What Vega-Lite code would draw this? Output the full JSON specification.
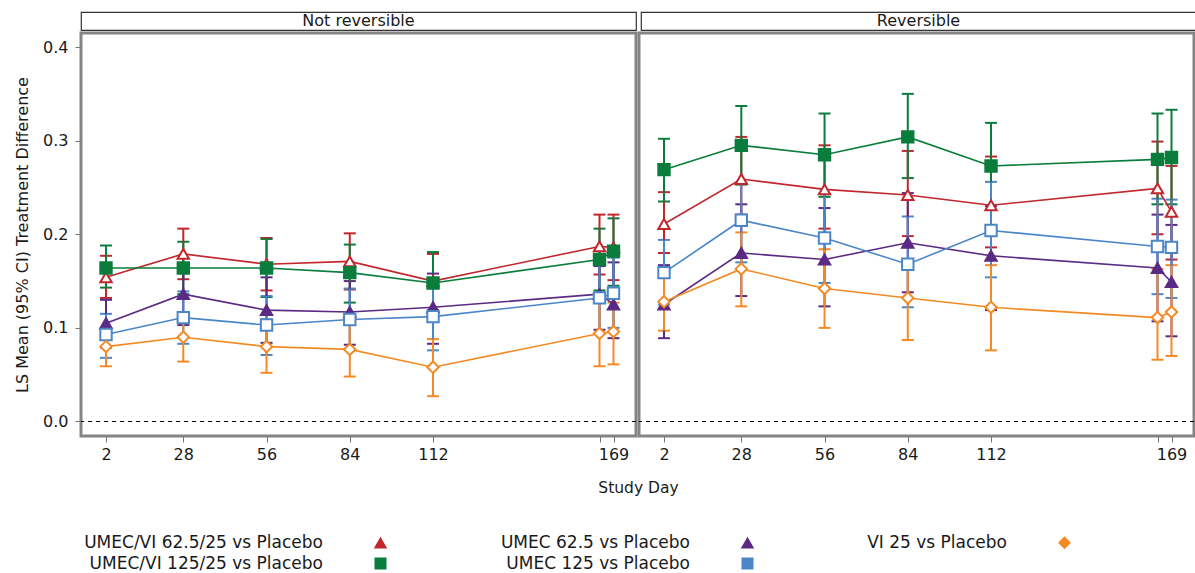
{
  "$schema": "https://vega.github.io/schema/vega-lite/v6.json",
  "padding": {"left": 13, "top": 11, "right": 0, "bottom": 0},
  "config": {
    "font": "DejaVu Sans",
    "view": {"stroke": "#858585", "strokeWidth": 3},
    "axis": {"labelColor": "#1a1a1a", "titleColor": "#1a1a1a", "titleFontWeight": "normal", "tickColor": "#777777", "domain": false, "grid": false}
  },
  "datasets": {
    "d": [
      {"panel":"Not reversible","series":"UMEC/VI 62.5/25 vs Placebo","day":2,"mean":0.154,"lo":0.132,"hi":0.177},
      {"panel":"Not reversible","series":"UMEC/VI 62.5/25 vs Placebo","day":28,"mean":0.179,"lo":0.152,"hi":0.206},
      {"panel":"Not reversible","series":"UMEC/VI 62.5/25 vs Placebo","day":56,"mean":0.168,"lo":0.140,"hi":0.196},
      {"panel":"Not reversible","series":"UMEC/VI 62.5/25 vs Placebo","day":84,"mean":0.171,"lo":0.141,"hi":0.201},
      {"panel":"Not reversible","series":"UMEC/VI 62.5/25 vs Placebo","day":112,"mean":0.150,"lo":0.119,"hi":0.179},
      {"panel":"Not reversible","series":"UMEC/VI 62.5/25 vs Placebo","day":168,"mean":0.187,"lo":0.157,"hi":0.221},
      {"panel":"Not reversible","series":"UMEC/VI 62.5/25 vs Placebo","day":169,"mean":0.186,"lo":0.151,"hi":0.221},
      {"panel":"Not reversible","series":"UMEC/VI 125/25 vs Placebo","day":2,"mean":0.164,"lo":0.143,"hi":0.188},
      {"panel":"Not reversible","series":"UMEC/VI 125/25 vs Placebo","day":28,"mean":0.164,"lo":0.136,"hi":0.192},
      {"panel":"Not reversible","series":"UMEC/VI 125/25 vs Placebo","day":56,"mean":0.164,"lo":0.133,"hi":0.195},
      {"panel":"Not reversible","series":"UMEC/VI 125/25 vs Placebo","day":84,"mean":0.159,"lo":0.127,"hi":0.189},
      {"panel":"Not reversible","series":"UMEC/VI 125/25 vs Placebo","day":112,"mean":0.148,"lo":0.116,"hi":0.181},
      {"panel":"Not reversible","series":"UMEC/VI 125/25 vs Placebo","day":168,"mean":0.173,"lo":0.140,"hi":0.206},
      {"panel":"Not reversible","series":"UMEC/VI 125/25 vs Placebo","day":169,"mean":0.182,"lo":0.145,"hi":0.217},
      {"panel":"Not reversible","series":"UMEC 62.5 vs Placebo","day":2,"mean":0.105,"lo":0.079,"hi":0.130},
      {"panel":"Not reversible","series":"UMEC 62.5 vs Placebo","day":28,"mean":0.136,"lo":0.103,"hi":0.166},
      {"panel":"Not reversible","series":"UMEC 62.5 vs Placebo","day":56,"mean":0.119,"lo":0.084,"hi":0.154},
      {"panel":"Not reversible","series":"UMEC 62.5 vs Placebo","day":84,"mean":0.117,"lo":0.082,"hi":0.150},
      {"panel":"Not reversible","series":"UMEC 62.5 vs Placebo","day":112,"mean":0.122,"lo":0.083,"hi":0.158},
      {"panel":"Not reversible","series":"UMEC 62.5 vs Placebo","day":168,"mean":0.136,"lo":0.098,"hi":0.166},
      {"panel":"Not reversible","series":"UMEC 62.5 vs Placebo","day":169,"mean":0.125,"lo":0.089,"hi":0.170},
      {"panel":"Not reversible","series":"UMEC 125 vs Placebo","day":2,"mean":0.093,"lo":0.068,"hi":0.115},
      {"panel":"Not reversible","series":"UMEC 125 vs Placebo","day":28,"mean":0.111,"lo":0.083,"hi":0.139},
      {"panel":"Not reversible","series":"UMEC 125 vs Placebo","day":56,"mean":0.103,"lo":0.071,"hi":0.134},
      {"panel":"Not reversible","series":"UMEC 125 vs Placebo","day":84,"mean":0.109,"lo":0.077,"hi":0.142},
      {"panel":"Not reversible","series":"UMEC 125 vs Placebo","day":112,"mean":0.112,"lo":0.076,"hi":0.147},
      {"panel":"Not reversible","series":"UMEC 125 vs Placebo","day":168,"mean":0.132,"lo":0.094,"hi":0.171},
      {"panel":"Not reversible","series":"UMEC 125 vs Placebo","day":169,"mean":0.137,"lo":0.100,"hi":0.175},
      {"panel":"Not reversible","series":"VI 25 vs Placebo","day":2,"mean":0.080,"lo":0.059,"hi":0.100},
      {"panel":"Not reversible","series":"VI 25 vs Placebo","day":28,"mean":0.090,"lo":0.064,"hi":0.115},
      {"panel":"Not reversible","series":"VI 25 vs Placebo","day":56,"mean":0.080,"lo":0.052,"hi":0.109},
      {"panel":"Not reversible","series":"VI 25 vs Placebo","day":84,"mean":0.077,"lo":0.048,"hi":0.106},
      {"panel":"Not reversible","series":"VI 25 vs Placebo","day":112,"mean":0.058,"lo":0.027,"hi":0.088},
      {"panel":"Not reversible","series":"VI 25 vs Placebo","day":168,"mean":0.094,"lo":0.059,"hi":0.127},
      {"panel":"Not reversible","series":"VI 25 vs Placebo","day":169,"mean":0.096,"lo":0.061,"hi":0.127},
      {"panel":"Reversible","series":"UMEC/VI 62.5/25 vs Placebo","day":2,"mean":0.211,"lo":0.180,"hi":0.245},
      {"panel":"Reversible","series":"UMEC/VI 62.5/25 vs Placebo","day":28,"mean":0.259,"lo":0.221,"hi":0.304},
      {"panel":"Reversible","series":"UMEC/VI 62.5/25 vs Placebo","day":56,"mean":0.248,"lo":0.206,"hi":0.295},
      {"panel":"Reversible","series":"UMEC/VI 62.5/25 vs Placebo","day":84,"mean":0.242,"lo":0.198,"hi":0.289},
      {"panel":"Reversible","series":"UMEC/VI 62.5/25 vs Placebo","day":112,"mean":0.231,"lo":0.186,"hi":0.283},
      {"panel":"Reversible","series":"UMEC/VI 62.5/25 vs Placebo","day":168,"mean":0.249,"lo":0.200,"hi":0.299},
      {"panel":"Reversible","series":"UMEC/VI 62.5/25 vs Placebo","day":169,"mean":0.224,"lo":0.173,"hi":0.273},
      {"panel":"Reversible","series":"UMEC/VI 125/25 vs Placebo","day":2,"mean":0.269,"lo":0.235,"hi":0.302},
      {"panel":"Reversible","series":"UMEC/VI 125/25 vs Placebo","day":28,"mean":0.295,"lo":0.253,"hi":0.337},
      {"panel":"Reversible","series":"UMEC/VI 125/25 vs Placebo","day":56,"mean":0.285,"lo":0.240,"hi":0.329},
      {"panel":"Reversible","series":"UMEC/VI 125/25 vs Placebo","day":84,"mean":0.304,"lo":0.260,"hi":0.350},
      {"panel":"Reversible","series":"UMEC/VI 125/25 vs Placebo","day":112,"mean":0.273,"lo":0.226,"hi":0.319},
      {"panel":"Reversible","series":"UMEC/VI 125/25 vs Placebo","day":168,"mean":0.280,"lo":0.232,"hi":0.329},
      {"panel":"Reversible","series":"UMEC/VI 125/25 vs Placebo","day":169,"mean":0.282,"lo":0.232,"hi":0.333},
      {"panel":"Reversible","series":"UMEC 62.5 vs Placebo","day":2,"mean":0.125,"lo":0.089,"hi":0.167},
      {"panel":"Reversible","series":"UMEC 62.5 vs Placebo","day":28,"mean":0.180,"lo":0.134,"hi":0.232},
      {"panel":"Reversible","series":"UMEC 62.5 vs Placebo","day":56,"mean":0.173,"lo":0.123,"hi":0.228},
      {"panel":"Reversible","series":"UMEC 62.5 vs Placebo","day":84,"mean":0.191,"lo":0.138,"hi":0.244},
      {"panel":"Reversible","series":"UMEC 62.5 vs Placebo","day":112,"mean":0.177,"lo":0.119,"hi":0.230},
      {"panel":"Reversible","series":"UMEC 62.5 vs Placebo","day":168,"mean":0.164,"lo":0.107,"hi":0.221},
      {"panel":"Reversible","series":"UMEC 62.5 vs Placebo","day":169,"mean":0.149,"lo":0.091,"hi":0.210},
      {"panel":"Reversible","series":"UMEC 125 vs Placebo","day":2,"mean":0.159,"lo":0.125,"hi":0.194},
      {"panel":"Reversible","series":"UMEC 125 vs Placebo","day":28,"mean":0.215,"lo":0.170,"hi":0.255},
      {"panel":"Reversible","series":"UMEC 125 vs Placebo","day":56,"mean":0.196,"lo":0.148,"hi":0.243},
      {"panel":"Reversible","series":"UMEC 125 vs Placebo","day":84,"mean":0.168,"lo":0.122,"hi":0.219},
      {"panel":"Reversible","series":"UMEC 125 vs Placebo","day":112,"mean":0.204,"lo":0.154,"hi":0.256},
      {"panel":"Reversible","series":"UMEC 125 vs Placebo","day":168,"mean":0.187,"lo":0.136,"hi":0.238},
      {"panel":"Reversible","series":"UMEC 125 vs Placebo","day":169,"mean":0.186,"lo":0.132,"hi":0.237},
      {"panel":"Reversible","series":"VI 25 vs Placebo","day":2,"mean":0.128,"lo":0.097,"hi":0.159},
      {"panel":"Reversible","series":"VI 25 vs Placebo","day":28,"mean":0.163,"lo":0.123,"hi":0.202},
      {"panel":"Reversible","series":"VI 25 vs Placebo","day":56,"mean":0.142,"lo":0.100,"hi":0.184},
      {"panel":"Reversible","series":"VI 25 vs Placebo","day":84,"mean":0.132,"lo":0.087,"hi":0.171},
      {"panel":"Reversible","series":"VI 25 vs Placebo","day":112,"mean":0.122,"lo":0.076,"hi":0.167},
      {"panel":"Reversible","series":"VI 25 vs Placebo","day":168,"mean":0.111,"lo":0.066,"hi":0.163},
      {"panel":"Reversible","series":"VI 25 vs Placebo","day":169,"mean":0.117,"lo":0.070,"hi":0.167}
    ]
  },
  "spacing": 0,
  "vconcat": [
    {
      "spacing": 3,
      "hconcat": [
        {
          "width": 555, "height": 18,
          "view": {"stroke": "#333333", "strokeWidth": 1.2},
          "data": {"name": "d"},
          "transform": [{"filter": "datum.panel == 'Not reversible'"}, {"aggregate": [{"op": "count", "as": "n"}], "groupby": ["panel"]}],
          "mark": {"type": "text", "fontSize": 16, "baseline": "middle", "align": "center", "color": "#1a1a1a"},
          "encoding": {"text": {"field": "panel"}}
        },
        {
          "width": 555, "height": 18,
          "view": {"stroke": "#333333", "strokeWidth": 1.2},
          "data": {"name": "d"},
          "transform": [{"filter": "datum.panel == 'Reversible'"}, {"aggregate": [{"op": "count", "as": "n"}], "groupby": ["panel"]}],
          "mark": {"type": "text", "fontSize": 16, "baseline": "middle", "align": "center", "color": "#1a1a1a"},
          "encoding": {"text": {"field": "panel"}}
        }
      ]
    },
    {
      "spacing": 3,
      "bounds": "flush",
      "hconcat": [
        {
          "width": 555, "height": 403,
          "data": {"name": "d"},
          "transform": [{"filter": "datum.panel == 'Not reversible'"}],
          "layer": [
            {
              "data": {"values": [{}]},
              "mark": {"type": "rule", "strokeDash": [4, 4], "color": "#000000", "strokeWidth": 1},
              "encoding": {"y": {"datum": 0, "type": "quantitative", "scale": {"domain": [-0.0155, 0.415], "nice": false, "zero": false}, "title": "LS Mean (95% CI) Treatment Difference"}}
            },
            {
              "mark": {"type": "errorbar", "ticks": {"size": 12, "thickness": 2, "opacity": 1}, "rule": {"opacity": 1}, "thickness": 2},
              "encoding": {
                "x": {"field": "day", "type": "quantitative", "scale": {"type": "linear", "domain": [-6.41, 168, 169, 176.6], "range": [0, 518.5, 532.5, 555], "nice": false, "zero": false}, "title": "Study Day"},
                "y": {"field": "lo", "type": "quantitative", "scale": {"domain": [-0.0155, 0.415], "nice": false, "zero": false}, "title": "LS Mean (95% CI) Treatment Difference"},
                "y2": {"field": "hi"},
                "color": {"field": "series", "type": "nominal", "scale": {"domain": ["UMEC/VI 62.5/25 vs Placebo", "UMEC 62.5 vs Placebo", "VI 25 vs Placebo", "UMEC/VI 125/25 vs Placebo", "UMEC 125 vs Placebo"], "range": ["#C1272D", "#5B2A84", "#F48A24", "#0A7D3C", "#4A86C8"]},
                  "legend": {
                    "title": null, "orient": "none", "legendX": 291, "legendY": 522, "direction": "horizontal", "columns": 3,
                    "symbolSize": 100, "symbolStrokeWidth": 2, "labelFontSize": 17, "labelColor": "#1a1a1a",
                    "labelAlign": "right", "labelOffset": -66, "labelLimit": 400, "columnPadding": 110, "rowPadding": 2
                  }}
              }
            },
            {
              "mark": {"type": "line", "strokeWidth": 1.6},
              "encoding": {
                "x": {"field": "day", "type": "quantitative", "title": "Study Day"},
                "y": {"field": "mean", "type": "quantitative", "title": "LS Mean (95% CI) Treatment Difference"},
                "color": {"field": "series", "type": "nominal"}
              }
            },
            {
              "mark": {"type": "point", "filled": false, "opacity": 1, "strokeWidth": 2, "size": 130},
              "encoding": {
                "x": {"field": "day", "type": "quantitative", "title": "Study Day",
                  "axis": {"values": [2, 28, 56, 84, 112, 168, 169], "labelExpr": "datum.value == 168 ? '' : datum.label", "labelFontSize": 16, "labelOverlap": false, "labelFlush": false, "labelBound": false, "tickSize": 6, "labelPadding": 4, "titleFontSize": 15.5, "titleX": 557, "titlePadding": 18}},
                "y": {"field": "mean", "type": "quantitative", "title": "LS Mean (95% CI) Treatment Difference",
                  "axis": {"values": [0, 0.1, 0.2, 0.3, 0.4], "format": ".1f", "labelFontSize": 16, "tickSize": 6, "labelPadding": 7, "titleFontSize": 16, "titlePadding": 12}},
                "color": {"field": "series", "type": "nominal"},
                "fill": {"field": "series", "type": "nominal", "scale": {"domain": ["UMEC/VI 62.5/25 vs Placebo", "UMEC 62.5 vs Placebo", "VI 25 vs Placebo", "UMEC/VI 125/25 vs Placebo", "UMEC 125 vs Placebo"], "range": ["#ffffff", "#5B2A84", "#ffffff", "#0A7D3C", "#ffffff"]}},
                "shape": {"field": "series", "type": "nominal", "scale": {"domain": ["UMEC/VI 62.5/25 vs Placebo", "UMEC 62.5 vs Placebo", "VI 25 vs Placebo", "UMEC/VI 125/25 vs Placebo", "UMEC 125 vs Placebo"], "range": ["triangle-up", "triangle-up", "diamond", "square", "square"]}}
              }
            }
          ]
        },
        {
          "width": 555, "height": 403,
          "data": {"name": "d"},
          "transform": [{"filter": "datum.panel == 'Reversible'"}],
          "layer": [
            {
              "data": {"values": [{}]},
              "mark": {"type": "rule", "strokeDash": [4, 4], "color": "#000000", "strokeWidth": 1},
              "encoding": {"y": {"datum": 0, "type": "quantitative", "scale": {"domain": [-0.0155, 0.415], "nice": false, "zero": false}, "axis": null}}
            },
            {
              "mark": {"type": "errorbar", "ticks": {"size": 12, "thickness": 2, "opacity": 1}, "rule": {"opacity": 1}, "thickness": 2},
              "encoding": {
                "x": {"field": "day", "type": "quantitative", "scale": {"type": "linear", "domain": [-6.41, 168, 169, 176.6], "range": [0, 518.5, 532.5, 555], "nice": false, "zero": false}},
                "y": {"field": "lo", "type": "quantitative", "scale": {"domain": [-0.0155, 0.415], "nice": false, "zero": false}, "axis": null},
                "y2": {"field": "hi"},
                "color": {"field": "series", "type": "nominal"}
              }
            },
            {
              "mark": {"type": "line", "strokeWidth": 1.6},
              "encoding": {
                "x": {"field": "day", "type": "quantitative"},
                "y": {"field": "mean", "type": "quantitative", "axis": null},
                "color": {"field": "series", "type": "nominal"}
              }
            },
            {
              "mark": {"type": "point", "filled": false, "opacity": 1, "strokeWidth": 2, "size": 130},
              "encoding": {
                "x": {"field": "day", "type": "quantitative",
                  "axis": {"title": null, "values": [2, 28, 56, 84, 112, 168, 169], "labelExpr": "datum.value == 168 ? '' : datum.label", "labelFontSize": 16, "labelOverlap": false, "labelFlush": false, "labelBound": false, "tickSize": 6, "labelPadding": 4}},
                "y": {"field": "mean", "type": "quantitative", "axis": null},
                "color": {"field": "series", "type": "nominal"},
                "fill": {"field": "series", "type": "nominal"},
                "shape": {"field": "series", "type": "nominal"}
              }
            }
          ]
        }
      ]
    }
  ]
}
